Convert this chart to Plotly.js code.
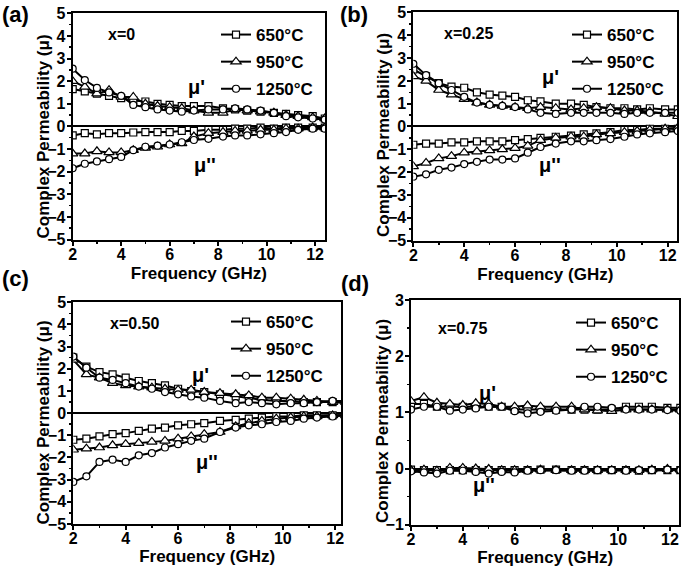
<!DOCTYPE html>
<html>
<head>
<meta charset="utf-8">
<script src="https://cdn.plot.ly/plotly-3.0.1.min.js"></script>
<style>html,body{margin:0;padding:0;background:#fff}#chart{width:685px;height:578px}</style>
</head>
<body>
<div id="chart"></div>
<script>
// Frequency points (GHz)
const freq = [2, 2.5, 3, 3.5, 4, 4.5, 5, 5.5, 6, 6.5, 7, 7.6, 8.2, 8.7, 9.2, 9.75, 10.3, 10.8, 11.3, 11.9, 12.4];
const tempLabels = ["650°C", "950°C", "1250°C"];
const panelLabels = ["(a)", "(b)", "(c)", "(d)"];
const compLabels = ["x=0", "x=0.25", "x=0.50", "x=0.75"];
const xTitle = "Frequency (GHz)";
const yTitle = "Complex Permeability (μ)";

// (a) x=0
const a_re650  = [1.65,1.55,1.45,1.35,1.25,1.15,1.1,1.0,0.95,0.9,0.9,0.9,0.8,0.75,0.7,0.65,0.6,0.55,0.5,0.45,0.35];
const a_re950  = [2.0,1.75,1.45,1.6,1.3,1.3,1.0,0.9,0.85,0.8,0.7,0.6,0.6,0.75,0.7,0.65,0.6,0.5,0.45,0.4,0.35];
const a_re1250 = [2.55,2.05,1.7,1.5,1.35,0.95,0.85,0.75,0.7,0.65,0.7,0.75,0.75,0.8,0.75,0.7,0.6,0.45,0.4,0.35,0.3];
const a_im650  = [-0.4,-0.3,-0.35,-0.3,-0.3,-0.27,-0.25,-0.25,-0.25,-0.2,-0.2,-0.15,-0.15,-0.1,-0.1,-0.05,-0.1,-0.05,-0.05,-0.05,-0.05];
const a_im950  = [-1.2,-1.2,-1.1,-1.15,-1.15,-1.05,-0.95,-0.9,-0.8,-0.75,-0.45,-0.3,-0.25,-0.2,-0.2,-0.15,-0.15,-0.1,-0.1,-0.05,-0.05];
const a_im1250 = [-1.85,-1.65,-1.55,-1.45,-1.35,-1.05,-0.9,-0.85,-0.8,-0.7,-0.6,-0.55,-0.45,-0.4,-0.4,-0.35,-0.3,-0.25,-0.15,-0.1,-0.1];

// (b) x=0.25
const b_re650  = [2.5,2.2,1.9,1.75,1.7,1.5,1.4,1.35,1.3,1.15,1.1,1.0,1.0,0.95,0.85,0.8,0.8,0.75,0.8,0.75,0.75];
const b_re950  = [2.2,2.0,1.6,1.4,1.2,1.05,0.95,0.9,0.85,0.8,0.85,0.8,0.75,0.8,0.85,0.8,0.7,0.7,0.65,0.55,0.45];
const b_re1250 = [2.75,2.25,1.9,1.6,1.3,1.05,0.95,0.9,0.85,0.75,0.6,0.55,0.6,0.6,0.6,0.6,0.55,0.6,0.6,0.6,0.6];
const b_im650  = [-0.8,-0.75,-0.75,-0.7,-0.7,-0.65,-0.65,-0.65,-0.6,-0.55,-0.5,-0.45,-0.4,-0.35,-0.3,-0.25,-0.15,-0.15,-0.1,-0.1,-0.1];
const b_im950  = [-1.75,-1.6,-1.4,-1.3,-1.15,-1.1,-1.05,-1.0,-0.95,-0.85,-0.6,-0.5,-0.45,-0.45,-0.35,-0.3,-0.25,-0.2,-0.15,-0.1,-0.05];
const b_im1250 = [-2.2,-2.1,-1.9,-1.8,-1.65,-1.55,-1.45,-1.45,-1.4,-1.15,-0.9,-0.75,-0.65,-0.65,-0.6,-0.55,-0.45,-0.35,-0.3,-0.25,-0.2];

// (c) x=0.50
const c_re650  = [2.5,2.1,1.85,1.75,1.6,1.45,1.35,1.25,1.1,1.0,0.95,0.85,0.75,0.7,0.6,0.55,0.55,0.5,0.5,0.5,0.45];
const c_re950  = [2.4,1.75,1.6,1.35,1.25,1.2,1.15,1.1,1.05,1.05,0.95,0.9,0.85,0.8,0.7,0.7,0.65,0.6,0.55,0.5,0.5];
const c_re1250 = [2.55,2.05,1.6,1.5,1.35,1.2,1.1,0.95,0.85,0.75,0.7,0.55,0.45,0.5,0.45,0.4,0.45,0.45,0.5,0.55,0.55];
const c_im650  = [-1.2,-1.15,-1.05,-0.95,-0.9,-0.8,-0.7,-0.65,-0.55,-0.5,-0.45,-0.35,-0.3,-0.25,-0.2,-0.15,-0.15,-0.1,-0.1,-0.1,-0.1];
const c_im950  = [-1.65,-1.6,-1.55,-1.45,-1.4,-1.35,-1.3,-1.25,-1.15,-1.05,-0.95,-0.85,-0.6,-0.45,-0.35,-0.25,-0.2,-0.15,-0.15,-0.1,-0.1];
const c_im1250 = [-3.1,-2.85,-2.2,-2.1,-2.2,-1.9,-1.8,-1.55,-1.4,-1.25,-1.15,-0.85,-0.65,-0.55,-0.5,-0.4,-0.35,-0.25,-0.2,-0.15,-0.1];

// (d) x=0.75
const d_re650  = [1.15,1.15,1.1,1.1,1.1,1.1,1.1,1.1,1.05,1.05,1.05,1.05,1.05,1.05,1.05,1.05,1.1,1.1,1.1,1.08,1.08];
const d_re950  = [1.2,1.27,1.17,1.15,1.13,1.16,1.15,1.1,1.1,1.12,1.1,1.1,1.1,1.05,1.03,1.02,1.05,1.05,1.05,1.05,1.05];
const d_re1250 = [1.05,1.1,1.1,1.03,1.05,1.07,1.1,1.1,1.02,0.98,1.01,1.03,1.05,1.1,1.1,1.08,1.05,1.05,1.05,1.04,1.03];
const d_im650  = [-0.02,-0.03,-0.03,-0.03,-0.03,-0.03,-0.03,-0.03,-0.03,-0.03,-0.02,-0.02,-0.03,-0.03,-0.03,-0.03,-0.03,-0.04,-0.03,-0.03,-0.03];
const d_im950  = [-0.03,-0.02,-0.04,0.01,0.01,0.0,-0.01,-0.03,-0.03,-0.03,-0.02,-0.03,-0.03,-0.03,-0.03,-0.03,-0.03,-0.03,-0.02,-0.01,-0.02];
const d_im1250 = [-0.05,-0.07,-0.09,-0.04,-0.04,-0.06,-0.09,-0.06,-0.07,-0.04,-0.03,-0.03,-0.04,-0.04,-0.03,-0.03,-0.04,-0.03,-0.03,-0.02,-0.03];

const panels = [
  {re:[a_re650,a_re950,a_re1250], im:[a_im650,a_im950,a_im1250]},
  {re:[b_re650,b_re950,b_re1250], im:[b_im650,b_im950,b_im1250]},
  {re:[c_re650,c_re950,c_re1250], im:[c_im650,c_im950,c_im1250]},
  {re:[d_re650,d_re950,d_re1250], im:[d_im650,d_im950,d_im1250]}
];

// layout geometry
const xDomains = [[0.1061,0.4745],[0.6034,0.9888],[0.1070,0.4978],[0.6000,0.9917]];
const yDomains = [[0.5856,0.9770],[0.5839,0.9784],[0.0934,0.4770],[0.0922,0.4810]];
const xRanges = [[2,12.41],[2,12.38],[2,12.22],[2,12.36]];
const yRanges = [[-5,5],[-5,5],[-5,5],[-1,3]];
const xTitleStandoff = [5,5,0,0];
const yTitlePx = [[43,136.5],[383,135],[43,422.5],[383,421]];
const symbols = ["square","triangle-up","circle"];
const msizes = [7,9,7];
const FONT = "Liberation Sans, Arial, sans-serif";

const traces = [];
panels.forEach((p, i) => {
  const xa = i === 0 ? "x" : "x" + (i + 1);
  const ya = i === 0 ? "y" : "y" + (i + 1);
  const lg = i === 0 ? "legend" : "legend" + (i + 1);
  for (let k = 0; k < 3; k++) {
    const common = {
      x: freq, xaxis: xa, yaxis: ya, mode: "lines+markers", legend: lg,
      legendgroup: "p" + i + "t" + k, name: tempLabels[k],
      line: {color: "#000", width: 2},
      marker: {symbol: symbols[k], size: msizes[k], color: "#fff", line: {color: "#000", width: 1.2}}
    };
    traces.push(Object.assign({}, common, {y: p.re[k], showlegend: true}));
    traces.push(Object.assign({}, common, {y: p.im[k], showlegend: false}));
  }
});

const layout = {
  width: 685, height: 578,
  margin: {l: 0, r: 0, t: 0, b: 0, pad: 0},
  paper_bgcolor: "#fff", plot_bgcolor: "#fff",
  font: {family: FONT, color: "#000", size: 17, weight: "bold"},
  showlegend: true,
  annotations: []
};

const legendPos = [
  {x: 216/685, y: 1 - 17/578},
  {x: 567/685, y: 1 - 17/578},
  {x: 226/685, y: 1 - 304/578},
  {x: 571/685, y: 1 - 305/578}
];

for (let i = 0; i < 4; i++) {
  const s = i === 0 ? "" : String(i + 1);
  layout["xaxis" + s] = {
    domain: xDomains[i], range: xRanges[i], anchor: "y" + s,
    showgrid: false, zeroline: false, showline: true, mirror: true,
    linecolor: "#000", linewidth: 2,
    ticks: "outside", ticklen: 4, tickwidth: 2, tickcolor: "#000",
    ticklabelstandoff: -5,
    tickmode: "array", tickvals: [2,4,6,8,10,12],
    minor: {tickmode: "array", tickvals: [3,5,7,9,11], ticks: "outside", ticklen: 2, tickwidth: 1.5, tickcolor: "#000"},
    tickfont: {family: FONT, size: 16, weight: "bold"},
    title: {text: xTitle, font: {family: FONT, size: 17, weight: "bold"}, standoff: xTitleStandoff[i]},
    automargin: false, fixedrange: true
  };
  layout["yaxis" + s] = {
    domain: yDomains[i], range: yRanges[i], anchor: "x" + s,
    showgrid: false, zeroline: true, zerolinecolor: "#000", zerolinewidth: 2,
    showline: true, mirror: true, linecolor: "#000", linewidth: 2,
    ticks: "outside", ticklen: 4, tickwidth: 2, tickcolor: "#000",
    ticklabelstandoff: -2,
    dtick: 1, tick0: 0,
    minor: {dtick: 0.5, ticks: "outside", ticklen: 2, tickwidth: 1.5, tickcolor: "#000"},
    tickfont: {family: FONT, size: 16, weight: "bold"},
    automargin: false, fixedrange: true
  };
  layout["legend" + s] = {
    x: legendPos[i].x, y: legendPos[i].y, xanchor: "left", yanchor: "top",
    xref: "paper", yref: "paper",
    bgcolor: "rgba(0,0,0,0)", borderwidth: 0,
    font: {family: FONT, size: 17, weight: "bold", color: "#000"},
    tracegroupgap: 2, itemclick: false, itemdoubleclick: false
  };
}

// Text labels inside panels (data coordinates)
const compPos = [[4.0,4.07],[4.16,4.1],[4.35,4.05],[4.0,2.5]];
const reLabelPos = [[7.12,1.76],[7.4,2.15],[6.84,1.72],[4.95,1.34]];
const imLabelPos = [[7.46,-1.7],[7.37,-1.7],[7.09,-2.2],[4.8,-0.3]];
const panelLabelPos = [[15,15],[354,15],[15,278],[355,283]];
for (let i = 0; i < 4; i++) {
  const xa = i === 0 ? "x" : "x" + (i + 1);
  const ya = i === 0 ? "y" : "y" + (i + 1);
  layout.annotations.push({xref: xa, yref: ya, x: compPos[i][0], y: compPos[i][1], text: compLabels[i], showarrow: false, font: {family: FONT, size: 16, weight: "bold"}});
  layout.annotations.push({xref: xa, yref: ya, x: reLabelPos[i][0], y: reLabelPos[i][1], text: "μ'", showarrow: false, font: {family: FONT, size: 20, weight: "bold"}});
  layout.annotations.push({xref: xa, yref: ya, x: imLabelPos[i][0], y: imLabelPos[i][1], text: "μ''", showarrow: false, font: {family: FONT, size: 20, weight: "bold"}});
  layout.annotations.push({xref: "paper", yref: "paper", xanchor: "center", yanchor: "middle", x: panelLabelPos[i][0]/685, y: 1 - panelLabelPos[i][1]/578, text: panelLabels[i], showarrow: false, font: {family: FONT, size: 22, weight: "bold"}});
  // y-axis title
  layout.annotations.push({xref: "paper", yref: "paper", xanchor: "center", yanchor: "middle", textangle: -90,
    x: yTitlePx[i][0]/685, y: 1 - yTitlePx[i][1]/578, text: yTitle, showarrow: false, font: {family: FONT, size: 17, weight: "bold"}});
}

Plotly.newPlot("chart", traces, layout, {displayModeBar: false, staticPlot: true});
</script>
</body>
</html>
